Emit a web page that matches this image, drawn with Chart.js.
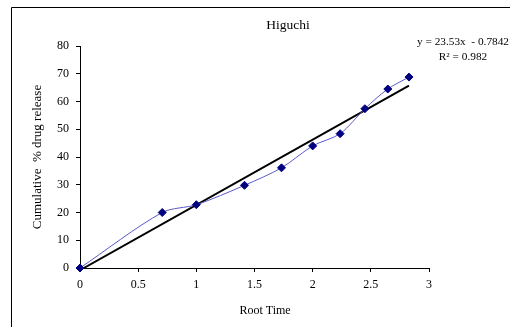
<!DOCTYPE html>
<html>
<head>
<meta charset="utf-8">
<script src="https://cdn.jsdelivr.net/npm/chart.js@4.4.1/dist/chart.umd.min.js"></script>
<style>
  html, body { margin: 0; padding: 0; background: #fff; }
  #wrap { width: 510px; height: 327px; position: relative; }
</style>
</head>
<body>
<div id="wrap"><canvas id="myChart"></canvas></div>
<script>
// root time values (sqrt of hours) and cumulative release
var rootTime = [0, 0.707, 1, 1.414, 1.732, 2, 2.236, 2.449, 2.646, 2.828];
var release = [0, 20, 22.8, 29.8, 36.1, 44, 48.4, 57.4, 64.5, 68.8];
// linear trendline end points (y = 23.53x - 0.7842)
var trendX = [0.033, 2.828];
var trendY = [0, 65.76];
var xTicks = [0, 0.5, 1, 1.5, 2, 2.5, 3];
var yTicks = [0, 10, 20, 30, 40, 50, 60, 70, 80];

var serif = '"Liberation Serif", "Times New Roman", serif';

var textPlugin = {
    id: 'texts',
    afterDraw: function (chart) {
        var c = chart.ctx;
        c.save();
        // outer frame
        c.strokeStyle = '#000';
        c.lineWidth = 1;
        c.beginPath();
        c.moveTo(11.5, 327);
        c.lineTo(11.5, 7.5);
        c.lineTo(510, 7.5);
        c.stroke();

        c.fillStyle = '#000';
        c.textAlign = 'center';
        c.textBaseline = 'middle';
        c.font = '13.5px ' + serif;
        c.fillText('Higuchi', 288, 25);
        c.font = '12px ' + serif;
        c.fillText('Root Time', 265, 311);
        c.font = '11.3px ' + serif;
        c.fillText('y = 23.53x  - 0.7842', 463, 42);
        c.fillText('R\u00B2 = 0.982', 463, 57);
        c.restore();
    }
};

var ctx = document.getElementById('myChart').getContext('2d');
var myChart = new Chart(ctx, {
    type: 'scatter',
    data: {
        datasets: [
            {
                label: 'Release',
                data: rootTime.map(function (x, i) { return { x: x, y: release[i] }; }),
                showLine: true,
                tension: 0.3,
                borderColor: '#5a5ac8',
                borderWidth: 1,
                pointStyle: 'rectRot',
                pointRadius: 4,
                pointBackgroundColor: '#000080',
                pointBorderColor: '#000080',
                clip: false,
                order: 1,
            },
            {
                label: 'Linear',
                data: trendX.map(function (x, i) { return { x: x, y: trendY[i] }; }),
                showLine: true,
                borderColor: '#000',
                borderWidth: 2,
                pointRadius: 0,
                order: 2,
            },
        ],
    },
    options: {
        responsive: true,
        maintainAspectRatio: false,
        animation: false,
        layout: { padding: { left: 0, top: 46, right: 81, bottom: 0 } },
        plugins: {
            legend: { display: false },
            tooltip: { enabled: false },
        },
        scales: {
            x: {
                type: 'linear',
                min: 0,
                max: 3,
                afterBuildTicks: function (scale) {
                    scale.ticks = xTicks.map(function (v) { return { value: v }; });
                },
                afterFit: function (scale) { scale.height = 59; },
                grid: { drawOnChartArea: false, drawTicks: true, tickLength: 4, color: '#000' },
                border: { color: '#000', width: 1 },
                ticks: {
                    padding: 6,
                    color: '#000',
                    font: { family: serif, size: 12 },
                    maxRotation: 0,
                    callback: function (v) { return String(v); },
                },
            },
            y: {
                type: 'linear',
                min: 0,
                max: 80,
                afterBuildTicks: function (scale) {
                    scale.ticks = yTicks.map(function (v) { return { value: v }; });
                },
                afterFit: function (scale) { scale.width = 80; },
                grid: { drawOnChartArea: false, drawTicks: true, tickLength: 4, color: '#000' },
                border: { color: '#000', width: 1 },
                ticks: {
                    padding: 7,
                    color: '#000',
                    font: { family: serif, size: 12 },
                },
                title: {
                    display: true,
                    text: 'Cumulative  % drug release',
                    color: '#000',
                    font: { family: serif, size: 13 },
                    padding: { top: 30, bottom: 0 },
                },
            },
        },
    },
    plugins: [textPlugin],
});
</script>
</body>
</html>
